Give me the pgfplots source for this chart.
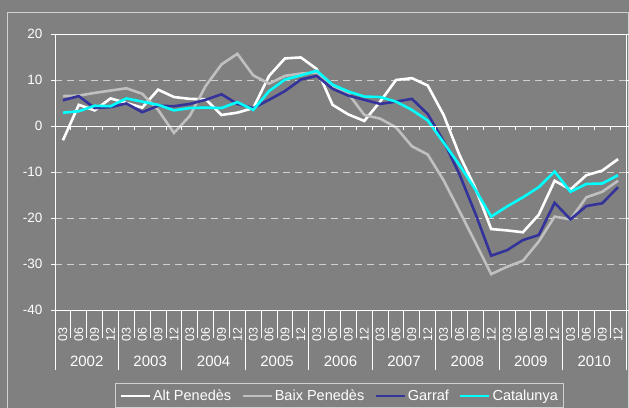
\documentclass[border=0pt]{standalone}
\usepackage{fontspec}
\setmainfont{Liberation Sans}
\usepackage{pgfplots}
\pgfplotsset{compat=1.18}
\definecolor{bg}{HTML}{808080}
\definecolor{baix}{HTML}{C0C0C0}
\definecolor{garraf}{HTML}{333399}
\definecolor{cat}{HTML}{00FFFF}
\definecolor{gridc}{HTML}{D0D0D0}
\begin{document}
\begin{tikzpicture}
\fill[bg] (-5pt,-20pt) rectangle (640pt,415pt);
\draw[gridc, line width=1pt] (7pt,-20pt) -- (7pt,394pt) -- (628pt,394pt) -- (628pt,-20pt);
\begin{axis}[
  at={(55pt,97pt)}, anchor=south west,
  scale only axis, width=571pt, height=276pt,
  xmin=0, xmax=36, ymin=-40, ymax=20,
  clip=false,
  axis line style={white, line width=1pt},
  ytick={-40,-30,...,20},
  ymajorgrids,
  grid style={gridc, line width=0.9pt, dash pattern=on 7pt off 5pt},
  y tick style={white, line width=0.9pt},
  tick align=outside, major tick length=4.5pt,
  yticklabel style={text=white, inner sep=0pt, font=\fontsize{13.5}{15}\selectfont},
  yticklabel shift=8pt,
  /pgf/number format/assume math mode=true,
  xtick={0.5,1.5,...,35.5},
  xticklabels={03,06,09,12,03,06,09,12,03,06,09,12,03,06,09,12,03,06,09,12,03,06,09,12,03,06,09,12,03,06,09,12,03,06,09,12},
  x tick style={draw=none},
  xticklabel style={rotate=90, anchor=east, inner sep=0pt, text=white, font=\fontsize{12.5}{14}\selectfont},
  xticklabel shift=12.5pt,
  legend columns=4,
  legend style={at={(0.4985,-0.2656)}, anchor=north, fill=bg, draw=gridc, line width=1pt,
    text=white, font=\fontsize{14.5}{16}\selectfont, inner xsep=4pt, inner ysep=4pt,
    /tikz/every even column/.append style={column sep=8pt}},
  legend cell align=left,
  legend image code/.code={\draw[#1] (0pt,0pt) -- (29pt,0pt);},
]
\addplot[white, line width=2.6pt] coordinates {
(0.5,-3.1) (1.5,4.6) (2.5,3.4) (3.5,6.0) (4.5,5.0) (5.5,4.0) (6.5,7.9) (7.5,6.3) (8.5,5.9) (9.5,5.8)
(10.5,2.4) (11.5,2.9) (12.5,3.9) (13.5,10.9) (14.5,14.7) (15.5,14.9) (16.5,12.4) (17.5,4.6) (18.5,2.5) (19.5,1.1)
(20.5,5.3) (21.5,10.0) (22.5,10.4) (23.5,8.8) (24.5,2.4) (25.5,-6.3) (26.5,-13.5) (27.5,-22.4) (28.5,-22.7) (29.5,-23.1)
(30.5,-19.3) (31.5,-11.9) (32.5,-13.8) (33.5,-10.7) (34.5,-9.7) (35.5,-7.2)};
\addlegendentry{Alt Penedès}
\addplot[baix, line width=2.6pt] coordinates {
(0.5,6.5) (1.5,6.6) (2.5,7.2) (3.5,7.7) (4.5,8.2) (5.5,7.0) (6.5,3.5) (7.5,-1.5) (8.5,2.2) (9.5,8.7)
(10.5,13.4) (11.5,15.7) (12.5,11.0) (13.5,9.2) (14.5,10.9) (15.5,11.4) (16.5,11.6) (17.5,8.7) (18.5,7.0) (19.5,2.4)
(20.5,1.6) (21.5,-0.3) (22.5,-4.4) (23.5,-6.2) (24.5,-11.8) (25.5,-18.5) (26.5,-25.3) (27.5,-32.2) (28.5,-30.6) (29.5,-29.3)
(30.5,-25.1) (31.5,-19.7) (32.5,-20.3) (33.5,-15.5) (34.5,-14.3) (35.5,-11.9)};
\addlegendentry{Baix Penedès}
\addplot[garraf, line width=2.6pt] coordinates {
(0.5,5.6) (1.5,6.5) (2.5,3.9) (3.5,4.1) (4.5,4.9) (5.5,3.0) (6.5,4.4) (7.5,4.3) (8.5,4.8) (9.5,5.7)
(10.5,6.9) (11.5,4.8) (12.5,3.9) (13.5,5.7) (14.5,7.6) (15.5,10.1) (16.5,10.9) (17.5,8.1) (18.5,6.6) (19.5,5.7)
(20.5,4.8) (21.5,5.3) (22.5,5.9) (23.5,2.6) (24.5,-3.3) (25.5,-10.5) (26.5,-19.0) (27.5,-28.2) (28.5,-27.0) (29.5,-24.8)
(30.5,-23.7) (31.5,-16.7) (32.5,-20.3) (33.5,-17.4) (34.5,-16.8) (35.5,-13.3)};
\addlegendentry{Garraf}
\addplot[cat, line width=2.6pt] coordinates {
(0.5,2.9) (1.5,3.2) (2.5,4.4) (3.5,4.3) (4.5,6.0) (5.5,5.3) (6.5,4.6) (7.5,3.4) (8.5,3.9) (9.5,4.0)
(10.5,3.9) (11.5,5.2) (12.5,3.5) (13.5,7.6) (14.5,10.1) (15.5,11.0) (16.5,12.0) (17.5,9.0) (18.5,7.5) (19.5,6.4)
(20.5,6.3) (21.5,5.3) (22.5,3.5) (23.5,1.2) (24.5,-3.6) (25.5,-8.5) (26.5,-13.8) (27.5,-19.7) (28.5,-17.5) (29.5,-15.5)
(30.5,-13.3) (31.5,-9.9) (32.5,-14.3) (33.5,-12.6) (34.5,-12.5) (35.5,-10.7)};
\addlegendentry{Catalunya}
% zero axis line with ticks
\draw[white, line width=1pt] (axis cs:0,0) -- (axis cs:36,0);
\pgfplotsinvokeforeach{1,...,35}{\draw[white, line width=0.9pt] (axis cs:#1,0) -- ++(0pt,-4pt);}
% category separators
\pgfplotsinvokeforeach{0,...,36}{\draw[white, line width=0.9pt] (axis cs:#1,-40) -- ++(0pt,-28pt);}
\pgfplotsinvokeforeach{0,4,...,36}{\draw[white, line width=0.9pt] (axis cs:#1,-40) -- ++(0pt,-60pt);}
% year labels
\path (axis cs:2,-40) ++(0pt,-51pt) node[text=white, font=\fontsize{15}{17}\selectfont] {2002};
\path (axis cs:6,-40) ++(0pt,-51pt) node[text=white, font=\fontsize{15}{17}\selectfont] {2003};
\path (axis cs:10,-40) ++(0pt,-51pt) node[text=white, font=\fontsize{15}{17}\selectfont] {2004};
\path (axis cs:14,-40) ++(0pt,-51pt) node[text=white, font=\fontsize{15}{17}\selectfont] {2005};
\path (axis cs:18,-40) ++(0pt,-51pt) node[text=white, font=\fontsize{15}{17}\selectfont] {2006};
\path (axis cs:22,-40) ++(0pt,-51pt) node[text=white, font=\fontsize{15}{17}\selectfont] {2007};
\path (axis cs:26,-40) ++(0pt,-51pt) node[text=white, font=\fontsize{15}{17}\selectfont] {2008};
\path (axis cs:30,-40) ++(0pt,-51pt) node[text=white, font=\fontsize{15}{17}\selectfont] {2009};
\path (axis cs:34,-40) ++(0pt,-51pt) node[text=white, font=\fontsize{15}{17}\selectfont] {2010};
\end{axis}
\pgfresetboundingbox
\useasboundingbox (0pt,0pt) rectangle (629pt,407pt);
\end{tikzpicture}
\end{document}
